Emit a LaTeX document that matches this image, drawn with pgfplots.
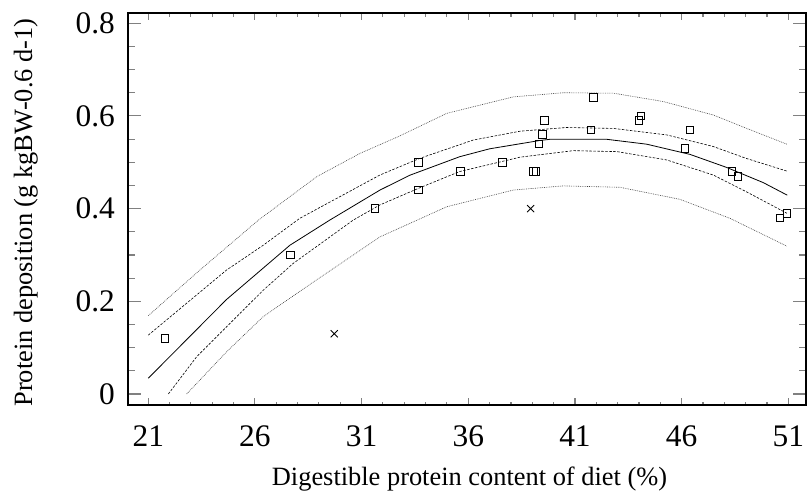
\documentclass[border=0pt]{standalone}
\usepackage{fontspec}
\setmainfont{Liberation Serif}
\usepackage{pgfplots}
\pgfplotsset{compat=1.18}

\begin{document}
\begin{tikzpicture}
	\path[use as bounding box] (-128bp,-89bp) rectangle (679bp,405bp);
	\begin{axis}[
			scale only axis,
			width=678bp, height=392bp,
			xmin=20.05, xmax=51.83,
			ymin=-0.0237, ymax=0.822,
			xtick={21,26,31,36,41,46,51},
			ytick={0,0.2,0.4,0.6,0.8},
			minor x tick num=4,
			minor y tick num=3,
			tick align=inside,
			axis line style={line width=1.1bp},
			xtick style={line width=1.1bp, /pgfplots/major tick length=7bp, /pgfplots/minor tick length=3.5bp},
			ytick style={line width=1.1bp, /pgfplots/major tick length=13bp, /pgfplots/minor tick length=7bp},
			/pgf/number format/assume math mode=true,
			tick label style={font=\fontsize{31.5}{32}\selectfont},
			xticklabel style={anchor=base, yshift=-41bp},
			yticklabel style={anchor=east, inner sep=0pt, xshift=-13bp},
			label style={font=\fontsize{26.5}{30}\selectfont},
			xlabel={Digestible protein content of diet (\%)},
			ylabel={Protein deposition (g kgBW-0.6 d-1)},
			xlabel style={at={(axis description cs:0.5037,-0.2066)}, anchor=base},
			ylabel style={at={(axis description cs:-0.1414,0.491)}, anchor=base},
		]
		
		% fitted curve
		\addplot[black, line width=0.8bp] coordinates {
			(21,0.034)(24.67,0.204)(27.64,0.321)(29.5,0.375)(31.86,0.44)(33.26,0.472)(35.6,0.512)(37.0,0.529)(39.36,0.547)(39.83,0.5495)(42.49,0.5495)(44.36,0.539)(46.39,0.517)(48.1,0.489)(49.83,0.456)(50.95,0.429)
		};
		
		% confidence band
		\addplot[black, line width=0.6bp, dash pattern=on 2.5bp off 1.5bp] coordinates {
			(21,0.127)(24.67,0.2675)(26.39,0.321)(28.1,0.379)(31.86,0.4725)(33.73,0.5085)(36.24,0.548)(38.43,0.567)(40.6,0.575)(42.8,0.573)(45.3,0.559)(47.48,0.534)(49.05,0.508)(50.93,0.481)
		};
		\addplot[black, line width=0.6bp, dash pattern=on 2.5bp off 1.5bp] coordinates {
			(21.94,0)(23.27,0.0805)(24.67,0.145)(26.39,0.224)(27.8,0.282)(30.6,0.375)(31.86,0.408)(33.73,0.445)(35.6,0.48)(38.43,0.511)(40.92,0.525)(42.96,0.523)(45.3,0.505)(47.48,0.4725)(49.05,0.436)(50.93,0.39)
		};
		
		% prediction band
		\addplot[black!75, line width=0.6bp, dash pattern=on 0.8bp off 1bp] coordinates {
			(21,0.169)(23.42,0.2675)(26.16,0.375)(28.9,0.469)(30.92,0.519)(32.8,0.557)(34.99,0.6055)(38.11,0.641)(40.45,0.65)(42.8,0.649)(45.14,0.631)(47.48,0.602)(49.05,0.573)(50.93,0.539)
		};
		\addplot[black!75, line width=0.6bp, dash pattern=on 0.8bp off 1bp] coordinates {
			(22.8,0)(24.67,0.091)(26.39,0.167)(28.42,0.2315)(31.86,0.339)(34.99,0.404)(38.11,0.44)(40.45,0.449)(43.11,0.446)(45.92,0.42)(48.27,0.379)(50.93,0.319)
		};
		
		% observations
		\addplot[only marks, mark=square, mark size=3.8bp, mark options={black, line width=0.8bp}] coordinates {
			(21.78,0.12)(27.67,0.30)(31.63,0.40)(33.66,0.50)(33.66,0.44)(35.64,0.48)(37.61,0.50)(39.05,0.48)(39.17,0.48)(39.31,0.54)(39.47,0.56)(39.58,0.59)(41.86,0.64)(41.75,0.57)(43.99,0.59)(44.1,0.60)(46.39,0.57)(46.15,0.53)(48.36,0.48)(48.63,0.47)(50.61,0.38)(50.93,0.39)
		};
		
		% excluded points
		\addplot[only marks, mark=x, mark size=5bp, mark options={black, line width=0.8bp}] coordinates {
			(29.72,0.13)(38.92,0.40)
		};
	\end{axis}
\end{tikzpicture}
\end{document}
